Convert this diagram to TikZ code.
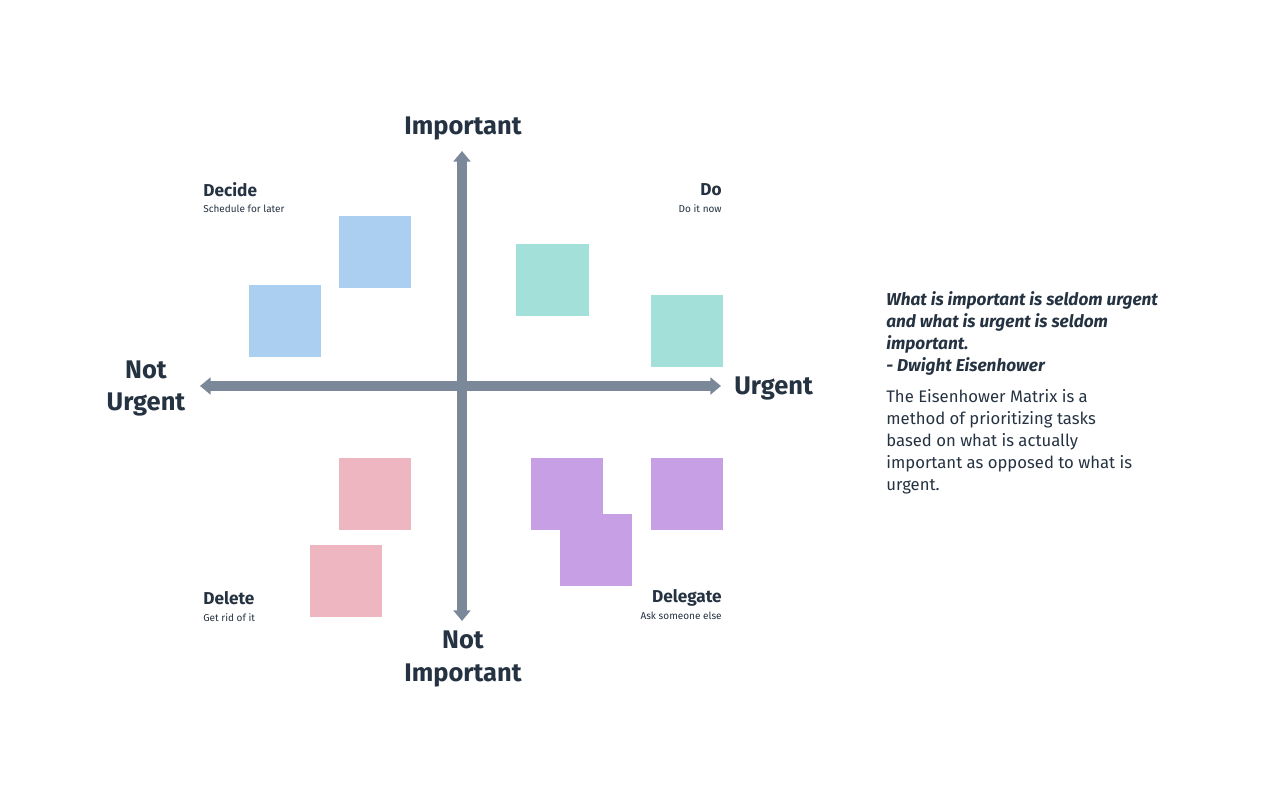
\documentclass[tikz,border=0pt]{standalone}
\usepackage{fontspec}
\setmainfont{Fira Sans}
\usetikzlibrary{arrows.meta}
\definecolor{axisgray}{HTML}{7A8899}
\definecolor{inkdark}{HTML}{253241}
\definecolor{noteblue}{HTML}{ABCFF1}
\definecolor{noteteal}{HTML}{A3E0DA}
\definecolor{notepink}{HTML}{EDB6C0}
\definecolor{notepurple}{HTML}{C79FE5}
\tikzset{
  axislabel/.style={font=\fontsize{14.5}{18.7}\selectfont\bfseries, text=inkdark, align=center, inner sep=0pt},
  quadtitle/.style={font=\fontsize{9.8}{11}\selectfont\bfseries, text=inkdark, inner sep=0pt},
  quadsub/.style={font=\fontsize{5.7}{7}\selectfont, text=inkdark, inner sep=0pt},
  axis/.style={draw=axisgray, line width=5.2pt, -{Triangle[width=9.5pt,length=6pt]}}
}
\begin{document}
\begin{tikzpicture}[x=0.02cm, y=-0.02cm]
		\useasboundingbox (0,0) rectangle (1280,800);
		% sticky notes
		\fill[noteblue] (339,216) rectangle (411,288);
		\fill[noteblue] (249,285) rectangle (321,357);
		\fill[noteteal] (516,244) rectangle (589,316);
		\fill[noteteal] (651,295) rectangle (723,367);
		\fill[notepink] (339,458) rectangle (411,530);
		\fill[notepink] (310,545) rectangle (382,617);
		\fill[notepurple] (531,458) rectangle (603,530);
		\fill[notepurple] (560,514) rectangle (632,586);
		\fill[notepurple] (651,458) rectangle (723,530);
		% axes
		\coordinate (center) at (462,386);
		\coordinate (top) at (462,151);
		\coordinate (bottom) at (462,621);
		\coordinate (left) at (200,386);
		\coordinate (right) at (721,386);
		\draw[axis] (center) -- (top);
		\draw[axis] (center) -- (bottom);
		\draw[axis] (center) -- (left);
		\draw[axis] (center) -- (right);
		% axis labels
		\node[axislabel] (important) at (463,128.5) {Important};
		\node[axislabel] (notimportant) at (463,659) {Not\\Important};
		\node[axislabel] (noturgent) at (146,388.5) {Not\\Urgent};
		\node[axislabel, anchor=west] (urgent) at (734,388) {Urgent};
		% quadrant labels
		\node[quadtitle, anchor=west] (decide) at (203,190) {Decide};
		\node[quadsub, anchor=west] (decidesub) at (203,209) {Schedule for later};
		\node[quadtitle, anchor=east] (do) at (722,190) {Do};
		\node[quadsub, anchor=east] (dosub) at (722,209) {Do it now};
		\node[quadtitle, anchor=west] (delete) at (203,598) {Delete};
		\node[quadsub, anchor=west] (deletesub) at (203,618) {Get rid of it};
		\node[quadtitle, anchor=east] (delegate) at (722,598) {Delegate};
		\node[quadsub, anchor=east] (delegatesub) at (722,616) {Ask someone else};
		% side text
		\node[anchor=north west, align=left, inner sep=0pt, text=inkdark,
		  font=\fontsize{9.8}{12.5}\selectfont\bfseries\itshape] (quote) at (886,291)
		  {What is important is seldom urgent\\and what is urgent is seldom\\important.\\- Dwight Eisenhower};
		\node[anchor=north west, align=left, inner sep=0pt, text=inkdark,
		  font=\fontsize{9.5}{12.5}\selectfont] (about) at (886,389.5)
		  {The Eisenhower Matrix is a\\method of prioritizing tasks\\based on what is actually\\important as opposed to what is\\urgent.};
	\end{tikzpicture}
\end{document}
